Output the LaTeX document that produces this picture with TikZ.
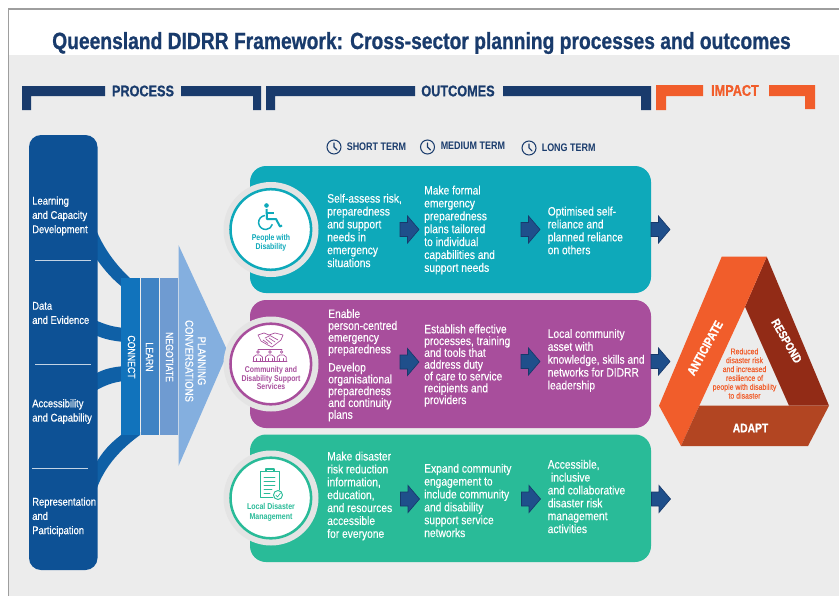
\documentclass[tikz,border=0pt]{standalone}
\usepackage{fontspec}
\setmainfont{Liberation Sans}
\newfontfamily\cn[FakeStretch=0.84,FakeBold=0.2]{Liberation Sans}
\newfontfamily\cnm[FakeStretch=0.84,FakeBold=0.45]{Liberation Sans}
\newfontfamily\cnb[FakeStretch=0.82]{Liberation Sans Bold}
\newfontfamily\cnh[FakeStretch=0.82,FakeBold=0.8]{Liberation Sans Bold}
\definecolor{navy}{HTML}{193B6C}
\definecolor{bg}{HTML}{ECECEC}
\definecolor{ring}{HTML}{E4E4E4}
\definecolor{barblue}{HTML}{0D5195}
\definecolor{band}{HTML}{0F60A6}
\definecolor{cconnect}{HTML}{1173BC}
\definecolor{clearn}{HTML}{3F83C4}
\definecolor{cnego}{HTML}{6F9BD1}
\definecolor{cplan}{HTML}{84AFDF}
\definecolor{cteal}{HTML}{0EA9BA}
\definecolor{cpurple}{HTML}{A84E9C}
\definecolor{cgreen}{HTML}{29BB98}
\definecolor{corange}{HTML}{F15D2B}
\definecolor{cdark}{HTML}{922B16}
\definecolor{cadapt}{HTML}{B24522}
\definecolor{arrowfill}{HTML}{1F4F8B}
\definecolor{arrowline}{HTML}{17396B}
\tikzset{
 panel/.style={rounded corners=12pt},
 body/.style={anchor=west,inner sep=0pt,align=left,text=white,font=\fontsize{9.15}{9.67}\selectfont\cn},
 tight/.style={body,font=\fontsize{9.15}{8.85}\selectfont\cn},
 barlabel/.style={anchor=west,inner sep=0pt,align=left,text=white,font=\fontsize{8.4}{10.7}\selectfont\cnm},
 head/.style={inner sep=0pt,text=navy,font=\fontsize{11.6}{12}\selectfont\cnh},
 term/.style={anchor=west,inner sep=0pt,text=navy,font=\fontsize{8.2}{8}\selectfont\cnb},
 vert/.style={inner sep=0pt,rotate=-90,align=center,text=white,font=\fontsize{7.8}{9.4}\selectfont\cn},
 who/.style={inner sep=0pt,align=center,font=\fontsize{6.3}{6.5}\selectfont\cnb},
 tri/.style={inner sep=0pt,text=white,font=\fontsize{9.4}{9.5}\selectfont\cnh},
 sep/.style={draw=white!75!barblue,line width=.7pt},
 clock/.style={draw=navy,line width=.8pt},
 icon/.style={line width=.5pt,line cap=round,line join=round},
}
\newcommand{\blockarrow}[2]{\fill[arrowfill,draw=arrowline,line width=.5pt]
 (#1,#2-7)--(#1+7.5,#2-7)--(#1+7.5,#2-13.5)--(#1+19,#2)--(#1+7.5,#2+13.5)--(#1+7.5,#2+7)--(#1,#2+7)--cycle;}
\newcommand{\clockicon}[2]{\draw[clock] (#1,#2) circle (7);
 \draw[clock,line cap=round] (#1,#2-4)--(#1,#2)--(#1+3,#2+3);}
\begin{document}
\begin{tikzpicture}[x=.75pt,y=-.75pt]
\useasboundingbox (0,0) rectangle (839,596);
\fill[white] (0,0) rectangle (839,596);
\fill[bg] (9,55) rectangle (839,596);
\draw[black!38,line width=.8pt] (8.5,596)--(8.5,9)--(839,9);
% title
\node[inner sep=0pt,text=navy,font=\fontsize{17.6}{18}\selectfont\cnh] (title) at (421.5,43) {Queensland DIDRR Framework: Cross-sector planning processes and outcomes};
% brackets
\fill[navy] (22,110)--(22,86)--(105,86)--(105,96)--(31,96)--(31,110)--cycle;
\fill[navy] (181,86)--(261,86)--(261,110)--(253,110)--(253,96)--(181,96)--cycle;
\node[head] (process) at (143,91) {PROCESS};
\fill[navy] (266,110)--(266,86)--(415,86)--(415,96)--(275,96)--(275,110)--cycle;
\fill[navy] (503,86)--(651,86)--(651,110)--(641,110)--(641,96)--(503,96)--cycle;
\node[head] (outcomes) at (458,91) {OUTCOMES};
\fill[corange] (656,110)--(656,85)--(703,85)--(703,96)--(666,96)--(666,110)--cycle;
\fill[corange] (769,85)--(815,85)--(815,109)--(805,109)--(805,96)--(769,96)--cycle;
\node[head,text=corange] (impact) at (735,90.5) {IMPACT};
% terms
\clockicon{334}{147}
\node[term] (short) at (346.5,147) {SHORT TERM};
\clockicon{427.5}{147}
\node[term] (medium) at (440.5,146) {MEDIUM TERM};
\clockicon{529}{148}
\node[term] (long) at (541.5,147.5) {LONG TERM};
% bands
\fill[band] (95,227) .. controls (103,248) and (116,265) .. (130,278) -- (130,290) -- (121,286) .. controls (110,277) and (103,268) .. (95,257) --cycle;
\fill[band] (95,320) .. controls (104,324) and (112,327) .. (125,328) -- (125,342) .. controls (112,341) and (104,339) .. (95,335) --cycle;
\fill[band] (95,374) .. controls (104,369) and (112,367) .. (125,366) -- (125,381) .. controls (112,382) and (104,386) .. (95,391) --cycle;
\fill[band] (95,465) .. controls (102,452) and (110,443) .. (125,432) -- (140,432) -- (140,435) .. controls (118,451) and (102,470) .. (95,494) --cycle;
% left bar
\fill[barblue,rounded corners=9pt] (29,135) rectangle (97.5,570);
\node[barlabel] (learning) at (32,216) {Learning\\and Capacity\\Development};
\node[barlabel] (data) at (32,313) {Data\\and Evidence};
\node[barlabel] (access) at (32,411.5) {Accessibility\\and Capability};
\node[barlabel] (repr) at (32,517) {Representation\\and\\Participation};
\draw[sep] (35,260)--(91,260);
\draw[sep] (35,364)--(91,364);
\draw[sep] (32,468)--(88,468);
% columns
\fill[cplan] (178.5,245)--(228,352)--(178.5,466)--cycle;
\fill[cconnect] (121,278) rectangle (140,435);
\fill[clearn] (141,278) rectangle (159,435);
\fill[cnego] (160,278) rectangle (178,435);
\node[vert] (connect) at (131.5,357) {CONNECT};
\node[vert] (learn) at (149.5,357) {LEARN};
\node[vert] (negotiate) at (169.5,357) {NEGOTIATE};
\node[vert,font=\fontsize{8.5}{9.4}\selectfont\cn] (planning) at (195.5,361) {PLANNING\\CONVERSATIONS};
% panels
\fill[cteal,panel] (250,166) rectangle (651,293);
\fill[cpurple,panel] (250,300) rectangle (651,428);
\fill[cgreen,panel] (250,434.5) rectangle (651,562);
\foreach \cy/\c in {229.5/cteal,364/cpurple,498/cgreen}{
 \fill[ring] (271,\cy) circle (47.5);
 \fill[white,draw=\c,line width=1.9pt] (270.8,\cy) circle (40.3);
}
% wheelchair icon
\fill[cteal] (266.5,205.5) circle (2.3);
\draw[cteal,line width=1.5pt,line join=round] (266.5,209)--(267,219)--(276,219)--(280,226.5)--(282,225.5);
\draw[cteal,line width=1.1pt] (267,213)--(274,213);
\draw[cteal,line width=1.1pt] (265,215.5) arc[start angle=-95,end angle=-345,radius=7];
\node[who] (people) [text=cteal] at (271,243) {People with\\Disability};
% handshake icon
\begin{scope}[icon,draw=cpurple]
\draw (258,335)--(264,333)--(269,335)--(275,333)--(283,335)--(281,340)--(272,347)--(267,344.5)--(261,341)--cycle;
\draw (265,338)--(270,335.5)--(278,340);
\draw (263,340)--(268,343.5) (266,339)--(272,344) (269,338)--(275,342);
\draw (258,349)--(282,349);
\foreach \px in {258,270,281.7}{
 \draw (\px,352) circle (1.3);
 \draw (\px-4.5,361.5)--(\px-4.5,357)--(\px-2,355)--(\px+2,355)--(\px+4.5,357)--(\px+4.5,361.5);
 \draw (\px-2,361.5)--(\px-2,358.5) (\px+2,361.5)--(\px+2,358.5);
}
\draw (253,361.5)--(287,361.5);
\end{scope}
\node[who] (community) [text=cpurple] at (271,378) {Community and\\Disability Support\\Services};
% clipboard icon
\begin{scope}[icon,draw=cgreen]
\draw[line width=.7pt] (279,490)--(279,471)--(260.5,471)--(260.5,497)--(273,497);
\draw[line width=.8pt] (266,471)--(266,469)--(274,469)--(274,471.5)--(266,471.5)--cycle;
\draw (264,477)--(275,477) (264,481)--(275,481) (264,485)--(275,485) (264,489)--(272,489) (264,493)--(270,493);
\draw[line width=.7pt] (278,495) circle (4.5);
\draw (275.8,495)--(277.5,497)--(280.5,493);
\end{scope}
\node[who,font=\fontsize{6.4}{7.5}\selectfont\cnb] (local) [text=cgreen] at (271,512) {Local Disaster\\Management};
% teal texts
\node[body] (t1) at (327,230.5) {Self-assess risk,\\preparedness\\and support\\needs in\\emergency\\situations};
\node[body] (t2) at (424,230) {Make formal\\emergency\\preparedness\\plans tailored\\to individual\\capabilities and\\support needs};
\node[body] (t3) at (547.5,230.5) {Optimised self-\\reliance and\\planned reliance\\on others};
% purple texts
\node[tight] (p1a) at (328,332.5) {Enable\\person-centred\\emergency\\preparedness};
\node[tight] (p1b) at (328,392) {Develop\\organisational\\preparedness\\and continuity\\plans};
\node[tight] (p2) at (424,365.5) {Establish effective\\processes, training\\and tools that\\address duty\\of care to service\\recipients and\\providers};
\node[body] (p3) at (547.5,360.5) {Local community\\asset with\\knowledge, skills and\\networks for DIDRR\\leadership};
% green texts
\node[body] (g1) at (327,496) {Make disaster\\risk reduction\\information,\\education,\\and resources\\accessible\\for everyone};
\node[body] (g2) at (424,500.5) {Expand community\\engagement to\\include community\\and disability\\support service\\networks};
\node[body] (g3) at (547.5,496.5) {Accessible,\\\hspace{2.4pt}inclusive\\and collaborative\\disaster risk\\management\\activities};
% flow arrows
\blockarrow{400}{229.5}\blockarrow{521}{229.5}\blockarrow{651}{229.5}
\blockarrow{400}{362}\blockarrow{521}{361.5}\blockarrow{651}{361.5}
\blockarrow{400.5}{499}\blockarrow{521.5}{499}\blockarrow{651.5}{499}
% triangle
\fill[cdark] (766.7,256.7)--(829,405.7)--(789,405.7)--(745,306.7)--cycle;
\fill[corange] (721.7,256.7)--(766.7,256.7)--(745,306.7)--(699.3,405.7)--(681,446)--(659,405.7)--cycle;
\fill[cadapt] (699.3,405.7)--(829,405.7)--(808,446)--(681,446)--cycle;
\node[tri,rotate=61] (anticipate) at (705,348) {ANTICIPATE};
\node[tri,rotate=-60,font=\fontsize{9}{9.5}\selectfont\cnh] (respond) at (786.7,341) {RESPOND};
\node[tri] (adapt) at (750.5,428) {ADAPT};
\node[inner sep=0pt,align=center,text=corange,font=\fontsize{6.2}{6.65}\selectfont\cn] (reduced) at (744.5,373.5) {Reduced\\disaster risk\\and increased\\resilience of\\people with disability\\to disaster};
\end{tikzpicture}
\end{document}
